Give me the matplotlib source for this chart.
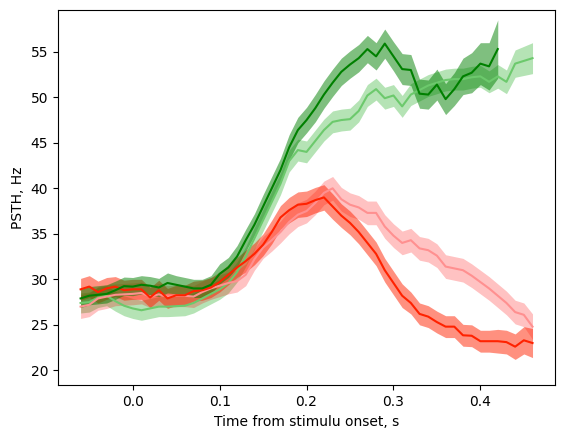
import numpy as np
import matplotlib
matplotlib.use("Agg")
import matplotlib.pyplot as plt

t = np.round(np.arange(-0.06, 0.465, 0.01), 2)

dark_green = [27.9, 28.2, 28.3, 28.4, 28.8, 29.25, 29.2, 29.4, 29.3, 29.1, 29.6, 29.4, 29.2, 29.0, 29.0, 29.4,
              30.6, 31.3, 32.5, 34.3, 36.0, 38.0, 40.0, 42.0, 44.5, 46.4, 47.5, 48.8, 50.3, 51.6, 52.8, 53.6,
              54.3, 55.3, 54.5, 55.9, 54.5, 53.1, 53.0, 50.4, 50.3, 51.4, 49.8, 50.9, 52.3, 52.7, 53.7, 53.4, 55.3]
dark_green_err = [1.0, 1.0, 1.0, 1.0, 1.0, 1.0, 1.0, 1.0, 1.0, 1.0, 1.1, 1.0, 1.0, 1.0, 1.0, 1.0,
                  1.1, 1.1, 1.2, 1.2, 1.2, 1.3, 1.3, 1.3, 1.4, 1.4, 1.4, 1.5, 1.5, 1.5, 1.5, 1.5,
                  1.5, 1.5, 1.5, 1.6, 1.6, 1.7, 1.7, 1.6, 1.6, 1.7, 1.7, 1.8, 2.0, 2.2, 2.3, 2.6, 3.2]

light_green = [27.4, 27.5, 28.0, 28.2, 27.6, 27.1, 26.8, 26.6, 26.8, 27.0, 27.0, 27.05, 27.1, 27.4, 27.9, 28.4,
               28.9, 29.6, 30.8, 32.5, 34.5, 36.5, 38.5, 40.5, 43.0, 44.2, 44.0, 45.2, 46.4, 47.3, 47.5, 47.6,
               48.5, 50.2, 50.9, 49.9, 50.2, 49.0, 50.3, 50.8, 51.3, 51.6, 51.9, 52.0, 52.0, 52.2, 52.3, 51.7,
               52.3, 51.7, 53.7, 54.0, 54.3]
light_green_err = [1.1, 1.1, 1.1, 1.1, 1.1, 1.1, 1.1, 1.1, 1.1, 1.1, 1.1, 1.1, 1.1, 1.1, 1.1, 1.1,
                   1.1, 1.1, 1.1, 1.1, 1.2, 1.2, 1.2, 1.2, 1.2, 1.2, 1.2, 1.2, 1.2, 1.2, 1.2, 1.2,
                   1.2, 1.2, 1.2, 1.2, 1.2, 1.2, 1.2, 1.2, 1.2, 1.2, 1.2, 1.2, 1.2, 1.2, 1.2, 1.2,
                   1.3, 1.3, 1.5, 1.6, 1.7]

red = [28.9, 29.2, 28.6, 29.0, 29.2, 28.8, 28.9, 28.9, 28.0, 28.8, 27.9, 28.25, 28.25, 28.7, 28.8, 29.1,
       29.7, 30.5, 31.3, 32.0, 32.8, 33.8, 35.2, 36.8, 37.6, 38.2, 38.3, 38.7, 39.0, 38.0, 37.0, 36.2,
       35.2, 34.0, 32.8, 31.0, 29.6, 28.2, 27.4, 26.2, 25.9, 25.3, 24.8, 24.8, 23.85, 23.8, 23.2, 23.2,
       23.2, 23.1, 22.6, 23.3, 23.0]
red_err = [1.2, 1.2, 1.2, 1.2, 1.1, 1.1, 1.1, 1.1, 1.1, 1.1, 1.1, 1.1, 1.1, 1.1, 1.1, 1.1,
           1.1, 1.1, 1.1, 1.2, 1.2, 1.2, 1.3, 1.3, 1.4, 1.4, 1.4, 1.4, 1.4, 1.4, 1.3, 1.3,
           1.3, 1.3, 1.3, 1.3, 1.3, 1.3, 1.2, 1.2, 1.2, 1.2, 1.2, 1.2, 1.2, 1.2, 1.2, 1.2,
           1.3, 1.3, 1.4, 1.5, 1.6]

pink = [27.0, 27.2, 27.9, 28.1, 28.3, 28.35, 28.4, 28.5, 28.1, 28.35, 28.1, 28.2, 28.2, 28.1, 28.6, 29.0,
        29.3, 29.6, 29.8, 30.5, 32.2, 33.5, 34.3, 35.2, 36.3, 37.1, 37.5, 38.4, 39.5, 40.0, 38.8, 38.2,
        37.9, 37.3, 37.3, 35.8, 34.8, 34.0, 34.3, 33.4, 33.2, 32.6, 31.4, 31.2, 31.0, 30.4, 29.7, 29.0,
        28.2, 27.4, 26.4, 26.1, 24.8]
pink_err = [1.3, 1.3, 1.3, 1.3, 1.2, 1.2, 1.2, 1.2, 1.2, 1.2, 1.2, 1.2, 1.2, 1.2, 1.2, 1.2,
            1.2, 1.2, 1.2, 1.2, 1.2, 1.2, 1.2, 1.2, 1.3, 1.3, 1.3, 1.3, 1.3, 1.3, 1.3, 1.3,
            1.3, 1.3, 1.3, 1.3, 1.3, 1.3, 1.3, 1.3, 1.3, 1.3, 1.3, 1.3, 1.3, 1.3, 1.3, 1.3,
            1.3, 1.3, 1.3, 1.3, 1.4]

fig, ax = plt.subplots(figsize=(5.63, 4.32), dpi=100)

def band(x, m, e, line_color, fill_color, fill_alpha):
    x = np.asarray(x); m = np.asarray(m); e = np.asarray(e)
    ax.fill_between(x, m - e, m + e, color=fill_color, alpha=fill_alpha, linewidth=0)
    ax.plot(x, m, color=line_color, linewidth=1.5)

band(t, light_green, light_green_err, '#6cc96c', '#32b432', 0.36)
band(t, pink, pink_err, '#ff9090', 'red', 0.24)
band(t, red, red_err, '#ff2200', '#ff2200', 0.5)
band(t[:len(dark_green)], dark_green, dark_green_err, 'green', 'green', 0.5)

ax.set_xlabel('Time from stimulu onset, s')
ax.set_ylabel('PSTH, Hz')
ax.set_xticks([0.0, 0.1, 0.2, 0.3, 0.4])
ax.set_ylim(18.35, 59.6)

fig.subplots_adjust(left=0.103, right=0.986, top=0.977, bottom=0.108)
fig.savefig('out.png', dpi=100)
